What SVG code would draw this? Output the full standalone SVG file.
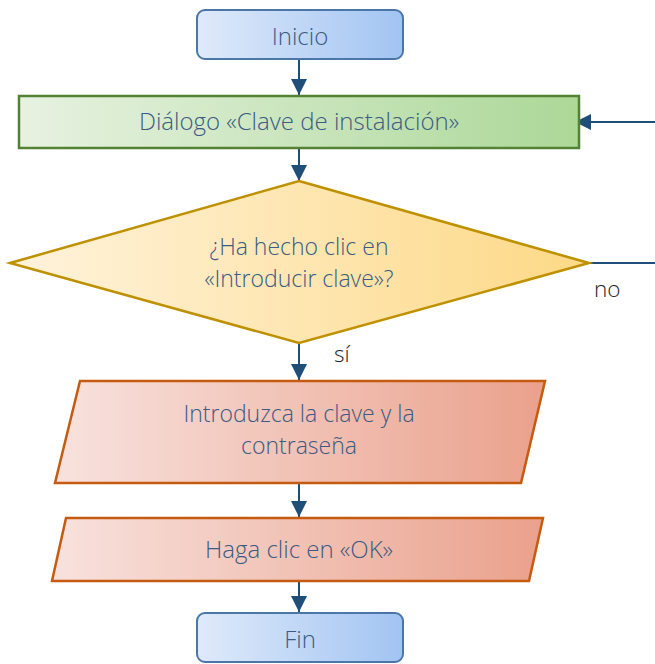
<svg xmlns="http://www.w3.org/2000/svg" width="655" height="664" viewBox="0 0 655 664">
<defs>
<linearGradient id="gBlue" x1="0" y1="0" x2="1" y2="0"><stop offset="0" stop-color="#dfeafa"/><stop offset="1" stop-color="#a2c4f2"/></linearGradient>
<linearGradient id="gGreen" x1="0" y1="0" x2="1" y2="0"><stop offset="0" stop-color="#e7f2e1"/><stop offset="1" stop-color="#acd898"/></linearGradient>
<linearGradient id="gYellow" x1="0" y1="0" x2="1" y2="0"><stop offset="0" stop-color="#fff3dc"/><stop offset="1" stop-color="#fdd986"/></linearGradient>
<linearGradient id="gRed" x1="0" y1="0" x2="1" y2="0"><stop offset="0" stop-color="#f8e2de"/><stop offset="1" stop-color="#eaa18c"/></linearGradient>
<marker id="arr" viewBox="0 0 10 10" refX="10" refY="5" markerWidth="16" markerHeight="16" markerUnits="userSpaceOnUse" orient="auto"><path d="M0,0 L10,5 L0,10 Z" fill="#1f4e79"/></marker>
<style>
.t{font-family:"Open Sans","Liberation Sans",sans-serif;font-size:24px;font-weight:300;fill:#3b5b82;text-anchor:middle}
.t2{font-size:23px}
.l{font-family:"Open Sans","Liberation Sans",sans-serif;font-size:22.5px;font-weight:300;fill:#222}
.c{stroke:#1f4e79;stroke-width:2;fill:none;marker-end:url(#arr)}
.c2{stroke:#1f4e79;stroke-width:2;fill:none}
</style>
</defs>
<g id="connectors">
<line class="c" x1="299" y1="59" x2="299" y2="95"/>
<line class="c" x1="299" y1="148" x2="299" y2="181"/>
<line class="c" x1="299" y1="343" x2="299" y2="380"/>
<line class="c" x1="299" y1="483" x2="299" y2="517"/>
<line class="c" x1="299" y1="581" x2="299" y2="612"/>
<line class="c2" x1="589" y1="263" x2="655" y2="263"/>
<line class="c" x1="655" y1="122" x2="575" y2="122"/>
<text class="l" x="594" y="297">no</text>
<text class="l" x="334" y="362">sí</text>
</g>
<g id="inicio">
<rect x="197" y="10" width="206" height="49" rx="8" fill="url(#gBlue)" stroke="#4a76a8" stroke-width="2"/>
<text class="t" x="300" y="45">Inicio</text>
</g>
<g id="dialogo">
<rect x="19" y="96" width="560" height="52" fill="url(#gGreen)" stroke="#548235" stroke-width="2.5"/>
<text class="t" x="299" y="130">Diálogo «Clave de instalación»</text>
</g>
<g id="decision">
<polygon points="299,181 589,263 299,343 10,263" fill="url(#gYellow)" stroke="#bf9000" stroke-width="2.5"/>
<text class="t t2" x="299" y="255">¿Ha hecho clic en</text>
<text class="t t2" x="299" y="287">«Introducir clave»?</text>
</g>
<g id="introduzca">
<polygon points="80,381 545,381 521,483 55,483" fill="url(#gRed)" stroke="#c55a11" stroke-width="2.5"/>
<text class="t t2" x="299" y="422">Introduzca la clave y la</text>
<text class="t t2" x="299" y="454">contraseña</text>
</g>
<g id="ok">
<polygon points="66,518 543,518 529,581 52,581" fill="url(#gRed)" stroke="#c55a11" stroke-width="2.5"/>
<text class="t" x="299" y="558">Haga clic en «OK»</text>
</g>
<g id="fin">
<rect x="197" y="613" width="206" height="49" rx="8" fill="url(#gBlue)" stroke="#4a76a8" stroke-width="2"/>
<text class="t" x="300" y="648">Fin</text>
</g>
</svg>
